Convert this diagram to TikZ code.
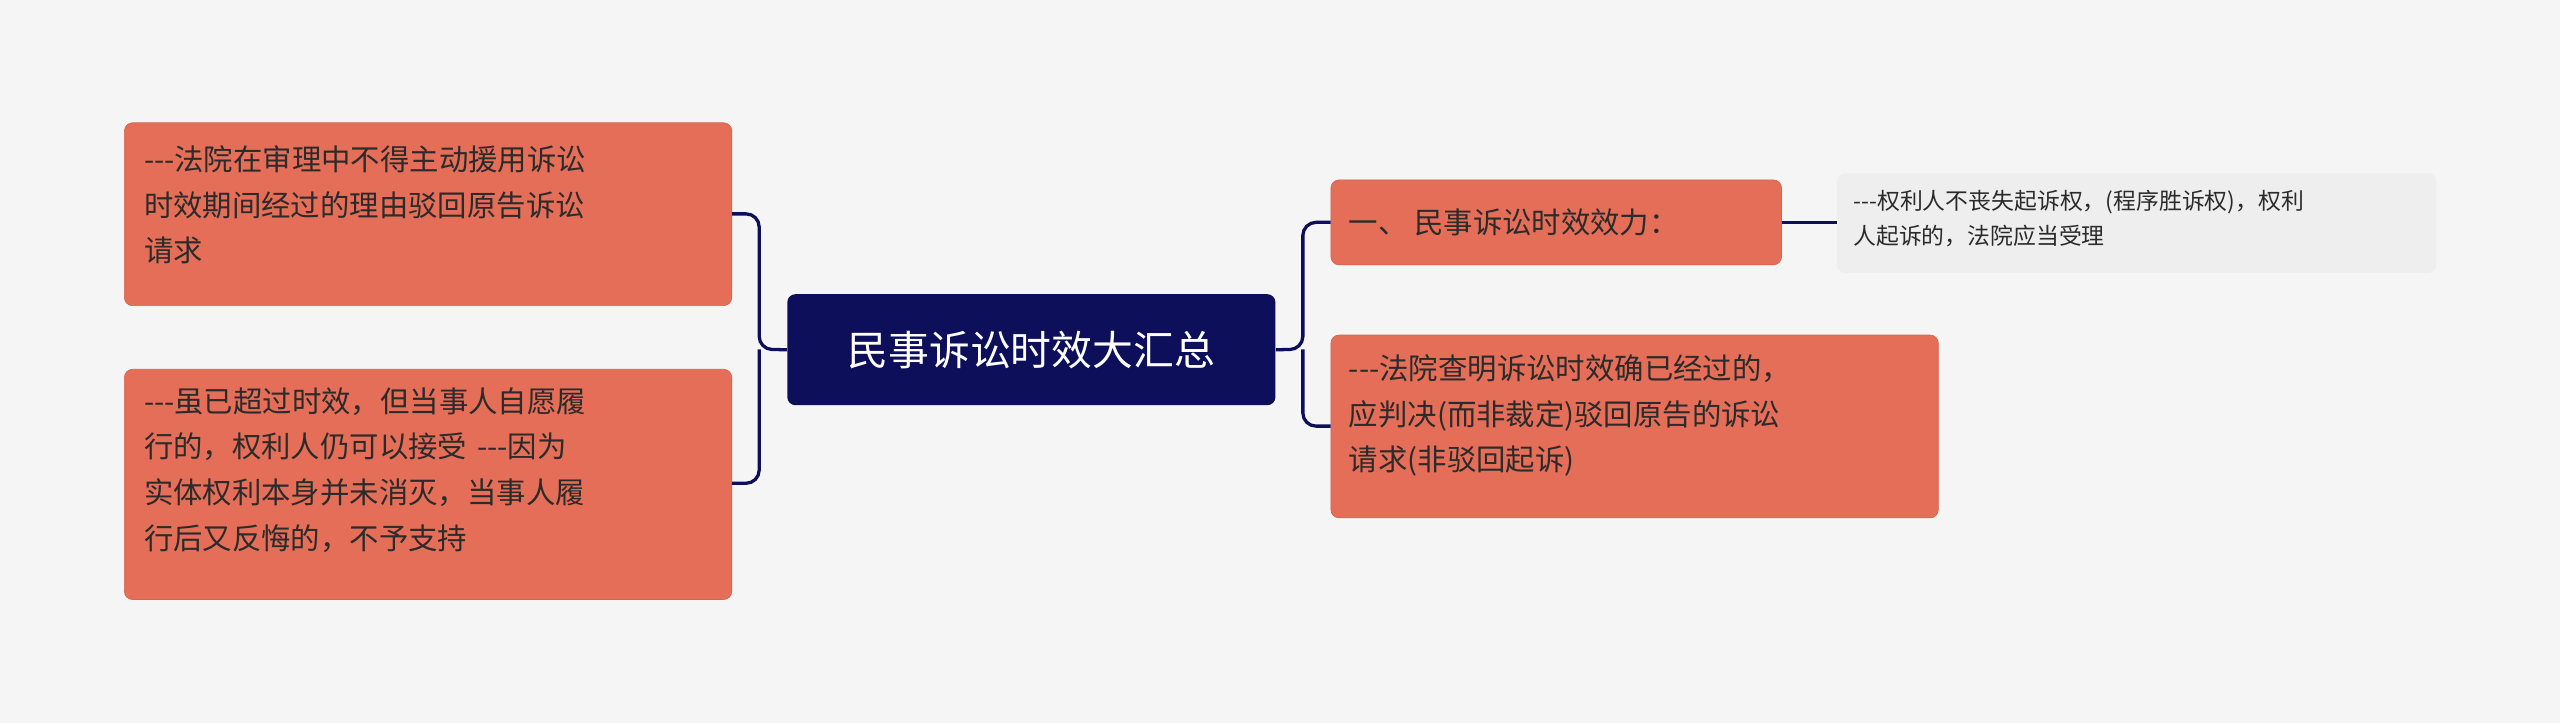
\documentclass[tikz,border=0pt]{standalone}
\usepackage{fontspec}
\newfontfamily\cjk{Noto Sans CJK SC}
\definecolor{bg}{HTML}{F5F5F5}
\definecolor{sal}{HTML}{E56E58}
\definecolor{salb}{HTML}{D9624C}
\definecolor{navy}{HTML}{0D0F5A}
\definecolor{leafc}{HTML}{EEEEEE}
\definecolor{txt}{HTML}{2B2B2B}
\begin{document}
\begin{tikzpicture}[x=1pt,y=-1pt,
  box/.style={draw=salb,fill=sal,rounded corners=5pt,inner sep=0pt,anchor=north west,align=left,text=txt,font=\cjk\fontsize{18}{28}\selectfont},
  leafbox/.style={fill=leafc,rounded corners=5pt,inner sep=0pt,anchor=north west,align=left,text=txt,font=\cjk\fontsize{14}{22}\selectfont},
  conn/.style={draw=navy,line width=2pt,rounded corners=8pt}]
\fill[bg] (0,0) rectangle (1568,443);
\useasboundingbox (0,0) rectangle (1568,443);
\node[fill=navy,rounded corners=5pt,minimum width=299pt,minimum height=68pt,anchor=north west,text=white,font=\cjk\fontsize{25}{30}\selectfont] (c) at (482,180) {民事诉讼时效大汇总};
\node[box,minimum width=372pt,minimum height=112pt] (l1) at (76,75) {};
\node[anchor=north west,text width=350pt,align=left,text=txt,font=\cjk\fontsize{18}{28}\selectfont,inner sep=0pt] at (88,89) {---法院在审理中不得主动援用诉讼\\时效期间经过的理由驳回原告诉讼\\请求};
\node[box,minimum width=372pt,minimum height=141pt] (l2) at (76,226) {};
\node[anchor=north west,text width=350pt,align=left,text=txt,font=\cjk\fontsize{18}{28}\selectfont,inner sep=0pt] at (88,237) {---虽已超过时效，但当事人自愿履\\行的，权利人仍可以接受 ---因为\\实体权利本身并未消灭，当事人履\\行后又反悔的，不予支持};
\node[box,minimum width=276pt,minimum height=52pt] (r1) at (815,110) {};
\node[anchor=west,text=txt,font=\cjk\fontsize{18}{24}\selectfont,inner sep=0pt] at (826,136) {一、 民事诉讼时效效力：};
\node[box,minimum width=372pt,minimum height=112pt] (r2) at (815,205) {};
\node[anchor=north west,align=left,text=txt,font=\cjk\fontsize{18}{28}\selectfont,inner sep=0pt] at (826,217) {---法院查明诉讼时效确已经过的，\\应判决(而非裁定)驳回原告的诉讼\\请求(非驳回起诉)};
\node[leafbox,minimum width=367pt,minimum height=61pt] (lf) at (1125,106) {};
\node[anchor=north west,align=left,text=txt,font=\cjk\fontsize{14}{22}\selectfont,inner sep=0pt] at (1135,116) {---权利人不丧失起诉权，(程序胜诉权)，权利\\人起诉的，法院应当受理};
\draw[conn] (c.west) -- (465,214) |- (l1.east |- 0,131);
\draw[conn] (465,214) |- (l2.east |- 0,296);
\draw[conn] (c.east) -- (798,214) |- (r1.west);
\draw[conn] (798,214) |- (r2.west |- 0,261);
\draw[conn] (r1.east) -- (lf.west |- r1.east);
\end{tikzpicture}
\end{document}
